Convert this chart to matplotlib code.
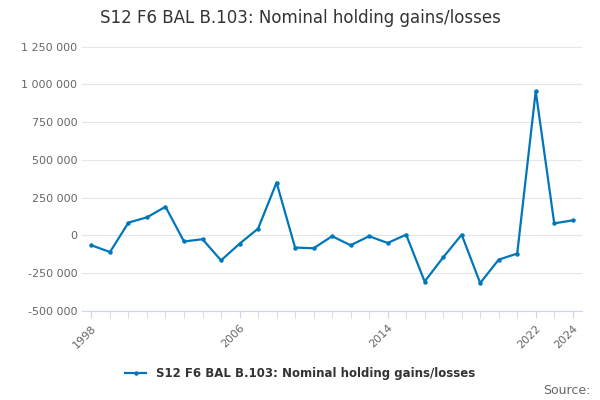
import matplotlib.pyplot as plt
from matplotlib.ticker import FuncFormatter

years = list(range(1998, 2025))
values = [-65000, -110000, 85000, 120000, 190000, -40000, -25000, -165000, -55000, 45000,
          350000, -80000, -85000, -5000, -65000, -5000, -50000, 5000, -305000, -145000,
          5000, -315000, -160000, -120000, 955000, 80000, 100000]
label = 'S12 F6 BAL B.103: Nominal holding gains/losses'
color = '#0077bb'

fig = plt.figure(figsize=(6, 4), dpi=100)
ax = fig.add_axes([0.137, 0.2225, 0.833, 0.68])
ax.plot(years, values, color=color, lw=1.6, marker='o', ms=2.2, label=label)

ax.set_ylim(-500000, 1300000)
ax.set_yticks(range(-500000, 1250001, 250000))
ax.yaxis.set_major_formatter(FuncFormatter(lambda v, p: f'{int(v):,}'.replace(',', ' ')))
ax.set_xlim(1997.5, 2024.5)
ax.set_xticks([1998, 2006, 2014, 2022, 2024])
ax.set_xticks(years, minor=True)
ax.tick_params(axis='x', which='both', length=5, color='#ccd6eb', labelsize=8, labelcolor='#666666')
ax.tick_params(axis='y', length=0, labelsize=8, labelcolor='#666666')
for t in ax.get_xticklabels():
    t.set_rotation(45)
    t.set_ha('right')
    t.set_rotation_mode('anchor')
ax.grid(axis='y', color='#e6e6e6', lw=0.8)
for s in ['top', 'right', 'left']:
    ax.spines[s].set_visible(False)
ax.spines['bottom'].set_color('#ccd6eb')

fig.text(0.5, 0.955, label, ha='center', va='center', fontsize=12, color='#333333')
fig.legend(loc='center', bbox_to_anchor=(0.5, 0.065), frameon=False, prop={'size': 8.5, 'weight': 'bold'},
           labelcolor='#333333', handlelength=1.8)
fig.text(0.985, 0.025, 'Source:', ha='right', va='center', fontsize=9, color='#666666')
fig.savefig('out.png')
